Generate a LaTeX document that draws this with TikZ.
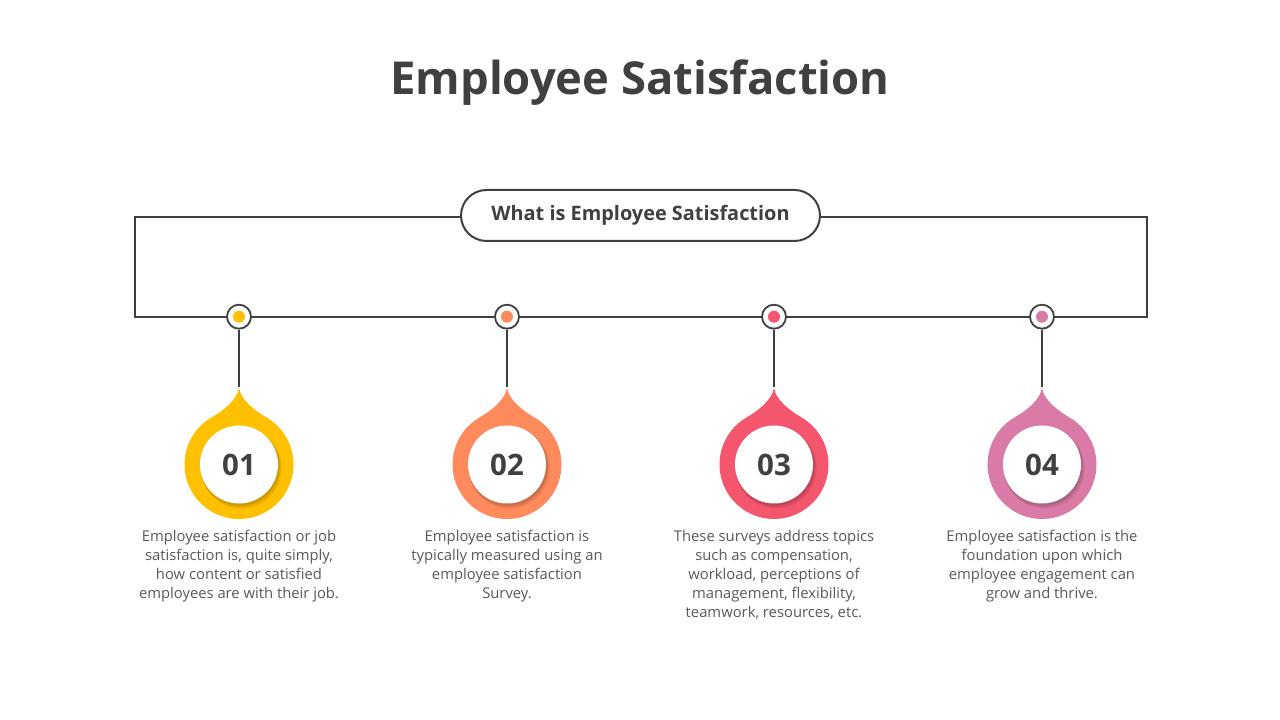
\documentclass[tikz,border=0pt]{standalone}
\usepackage{fontspec}
\setmainfont{Open Sans}
\definecolor{dark}{HTML}{404040}
\definecolor{txt}{HTML}{595959}
\definecolor{cA}{HTML}{FFC000}
\definecolor{cB}{HTML}{FF8A5B}
\definecolor{cC}{HTML}{F4566D}
\definecolor{cD}{HTML}{DA7AA6}
\tikzset{
  frameline/.style={draw=dark, line width=2.2pt},
  ring/.style={circle, draw=dark, line width=1.8pt, fill=white, minimum size=24pt, inner sep=0pt},
  pip/.style={circle, minimum size=12pt, inner sep=0pt},
  numtext/.style={font=\bfseries\fontsize{29.5}{32}\selectfont, text=dark},
  desc/.style={font=\fontsize{14.8}{19}\selectfont, text=txt, align=center, anchor=north, inner sep=0pt},
}
\newcommand{\dropshape}[3]{% x, y(center), color
  \fill[#3] (#1,#2+76.5) .. controls (#1-2,#2+64) and (#1-16.9,#2+53.2) .. (#1-27.25,#2+47.2)
     arc[start angle=120, end angle=420, radius=54.5]
     .. controls (#1+16.9,#2+53.2) and (#1+2,#2+64) .. cycle;
  \foreach \o/\r in {3.5/40.5,2.5/40,1.5/39.5}{
    \fill[black, opacity=0.07] (#1+\o*0.6,#2-\o) circle[radius=\r];
  }
  \fill[white] (#1,#2) circle[radius=39];
}
\begin{document}
\begin{tikzpicture}[x=1pt,y=1pt]
\useasboundingbox (0,0) rectangle (1280,720);
\fill[white] (0,0) rectangle (1280,720);

\node[font=\bfseries\fontsize{45.4}{50}\selectfont, text=dark] (title) at (640,637) {Employee Satisfaction};

\node[draw=dark, line width=2pt, rounded corners=25.5pt, minimum width=359pt, minimum height=51pt,
      font=\bfseries\fontsize{19.9}{22}\selectfont, text=dark] (what) at (640.5,504.5) {What is Employee Satisfaction};

\coordinate (tl) at (135,503.3);
\coordinate (bl) at (135,403.3);
\coordinate (br) at (1147,403.3);
\coordinate (tr) at (1147,503.3);
\draw[frameline] (what.west |- tl) -- (tl) -- (bl) -- (br) -- (tr) -- (what.east |- tr);

\foreach \i/\x/\c/\n in {1/239/cA/01, 2/507/cB/02, 3/774/cC/03, 4/1042/cD/04}{
  \dropshape{\x}{255.5}{\c}
  \coordinate (tip\i) at (\x,333);
  \node[ring] (ring\i) at (\x,403.3) {};
  \node[pip, fill=\c] (pip\i) at (ring\i) {};
  \draw[draw=dark, line width=1.8pt] (ring\i.south) -- (tip\i);
  \node[numtext] (num\i) at (\x,255.5) {\n};
}

\node[desc] (d1) at (239,190) {Employee satisfaction or job\\satisfaction is, quite simply,\\how content or satisfied\\employees are with their job.};
\node[desc] (d2) at (507,190) {Employee satisfaction is\\typically measured using an\\employee satisfaction\\Survey.};
\node[desc] (d3) at (774,190) {These surveys address topics\\such as compensation,\\workload, perceptions of\\management, flexibility,\\teamwork, resources, etc.};
\node[desc] (d4) at (1042,190) {Employee satisfaction is the\\foundation upon which\\employee engagement can\\grow and thrive.};
\end{tikzpicture}
\end{document}
